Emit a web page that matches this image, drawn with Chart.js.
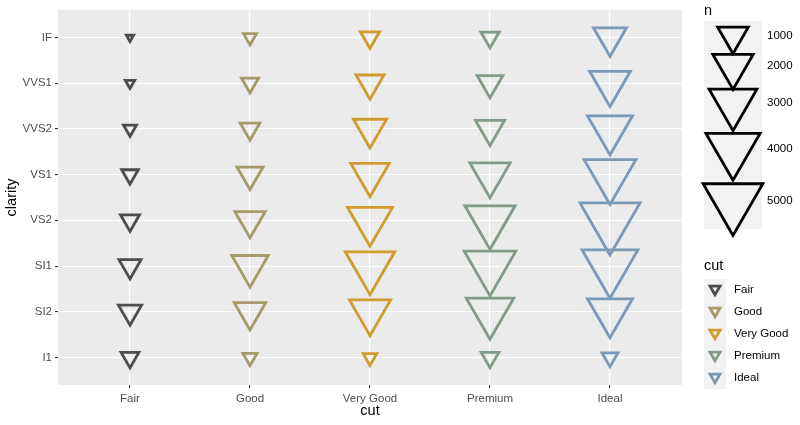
<!DOCTYPE html>
<html>
<head>
<meta charset="utf-8">
<script src="https://cdn.jsdelivr.net/npm/chart.js@4.4.0/dist/chart.umd.min.js"></script>
<style>
  body { margin: 0; background: #fff; }
  #wrap { width: 800px; height: 425px; }
</style>
</head>
<body>
<div id="wrap"><canvas id="chart" width="800" height="425"></canvas></div>
<script>
// categories
const cuts = ['Fair', 'Good', 'Very Good', 'Premium', 'Ideal'];
const clarities = ['I1', 'SI2', 'SI1', 'VS2', 'VS1', 'VVS2', 'VVS1', 'IF'];

// counts per cut, in clarity order I1 .. IF
const fairCounts = [210, 466, 408, 261, 170, 69, 17, 9];
const goodCounts = [96, 1081, 1560, 978, 648, 286, 186, 71];
const veryGoodCounts = [84, 2100, 3240, 2591, 1775, 1235, 789, 268];
const premiumCounts = [205, 2949, 3575, 3357, 1989, 870, 616, 230];
const idealCounts = [146, 2598, 4282, 5071, 3589, 2606, 2047, 1212];

// size legend breaks
const sizeBreaks = [1000, 2000, 3000, 4000, 5000];

const cutColors = ['#4D4D4D', '#A69A6A', '#D19B30', '#829C88', '#7C99B6'];
const allCounts = [fairCounts, goodCounts, veryGoodCounts, premiumCounts, idealCounts];

const nMin = Math.min(...allCounts.flat());
const nMax = Math.max(...allCounts.flat());
const STROKE = 2.8;

// ggplot area palette: size in [1, 6]
function sizeOf(n) {
    return 1 + 5 * Math.sqrt((n - nMin) / (nMax - nMin));
}

// size unit -> triangle radius in px (fitted by eye)
function radiusOf(n) {
    return 6.1 * sizeOf(n) - 1.9;
}

function triangle(ctx, x, y, r, color, lw) {
    ctx.save();
    ctx.strokeStyle = color;
    ctx.lineWidth = lw;
    ctx.beginPath();
    let rad = Math.PI;
    ctx.moveTo(x + Math.sin(rad) * r, y - Math.cos(rad) * r);
    for (let k = 0; k < 2; k++) {
        rad += 2 * Math.PI / 3;
        ctx.lineTo(x + Math.sin(rad) * r, y - Math.cos(rad) * r);
    }
    ctx.closePath();
    ctx.stroke();
    ctx.restore();
}

const FONT = 'Liberation Sans, Arial, sans-serif';

const panelBg = {
    id: 'panelBg',
    beforeDraw(chart) {
        const a = chart.chartArea;
        const ctx = chart.ctx;
        ctx.save();
        ctx.fillStyle = '#EBEBEB';
        ctx.fillRect(a.left, a.top, a.right - a.left, a.bottom - a.top);
        ctx.restore();
    }
};

const legends = {
    id: 'legends',
    afterDraw(chart) {
        const ctx = chart.ctx;
        ctx.save();
        ctx.textBaseline = 'middle';
        ctx.textAlign = 'left';

        // size legend
        ctx.fillStyle = '#000';
        ctx.font = '14.5px ' + FONT;
        ctx.fillText('n', 704, 11);
        ctx.fillStyle = '#F2F2F2';
        ctx.fillRect(704, 21, 58, 208);
        const keyY = [36, 66, 103, 149, 201];
        ctx.font = '11.5px ' + FONT;
        sizeBreaks.forEach((b, i) => {
            triangle(ctx, 733, keyY[i], radiusOf(b), '#000', STROKE);
            ctx.fillStyle = '#000';
            ctx.fillText(String(b), 767, keyY[i]);
        });

        // colour legend
        ctx.fillStyle = '#000';
        ctx.font = '14.5px ' + FONT;
        ctx.fillText('cut', 704, 266);
        ctx.fillStyle = '#F2F2F2';
        ctx.fillRect(704, 279, 22, 110);
        ctx.font = '11.5px ' + FONT;
        cuts.forEach((c, i) => {
            const y = 290 + i * 22;
            triangle(ctx, 715, y - 1, 5.8, cutColors[i], STROKE);
            ctx.fillStyle = '#000';
            ctx.fillText(c, 734, y);
        });
        ctx.restore();
    }
};

const datasets = cuts.map((c, i) => ({
    label: c,
    data: allCounts[i].map((n, j) => ({ x: i, y: j, n: n })),
    pointStyle: 'triangle',
    pointRotation: 180,
    pointRadius: (ctx) => radiusOf(ctx.raw.n),
    pointHoverRadius: (ctx) => radiusOf(ctx.raw.n),
    pointBorderWidth: STROKE,
    pointBorderColor: cutColors[i],
    pointBackgroundColor: 'rgba(0,0,0,0)',
    showLine: false
}));

new Chart(document.getElementById('chart'), {
    type: 'scatter',
    data: { datasets: datasets },
    options: {
        responsive: false,
        animation: false,
        layout: { autoPadding: false, padding: { top: 5, right: 118, left: 0, bottom: 0 } },
        plugins: {
            legend: { display: false },
            tooltip: { enabled: false }
        },
        scales: {
            x: {
                type: 'linear',
                min: -0.6,
                max: cuts.length - 0.4,
                afterBuildTicks: (s) => { s.ticks = cuts.map((c, i) => ({ value: i })); },
                afterFit: (s) => { s.height = 40; },
                ticks: {
                    callback: (v) => cuts[v],
                    color: '#4D4D4D',
                    font: { family: FONT, size: 11.5 },
                    padding: 4,
                    maxRotation: 0,
                    autoSkip: false
                },
                grid: { color: '#FFFFFF', lineWidth: 1.1, tickColor: '#333333', tickLength: 3 },
                border: { display: false },
                title: {
                    display: true, text: 'cut', color: '#000',
                    font: { family: FONT, size: 14.5 },
                    padding: { top: 0, bottom: 5 }
                }
            },
            y: {
                type: 'linear',
                min: -0.6,
                max: clarities.length - 0.4,
                afterBuildTicks: (s) => { s.ticks = clarities.map((c, i) => ({ value: i })); },
                afterFit: (s) => { s.width = 58; },
                ticks: {
                    callback: (v) => clarities[v],
                    color: '#4D4D4D',
                    font: { family: FONT, size: 11.5 },
                    padding: 3,
                    autoSkip: false
                },
                grid: { color: '#FFFFFF', lineWidth: 1.1, tickColor: '#333333', tickLength: 3 },
                border: { display: false },
                title: {
                    display: true, text: 'clarity', color: '#000',
                    font: { family: FONT, size: 14.5 },
                    padding: { top: 3, bottom: 0 }
                }
            }
        }
    },
    plugins: [panelBg, legends]
});
</script>
</body>
</html>
